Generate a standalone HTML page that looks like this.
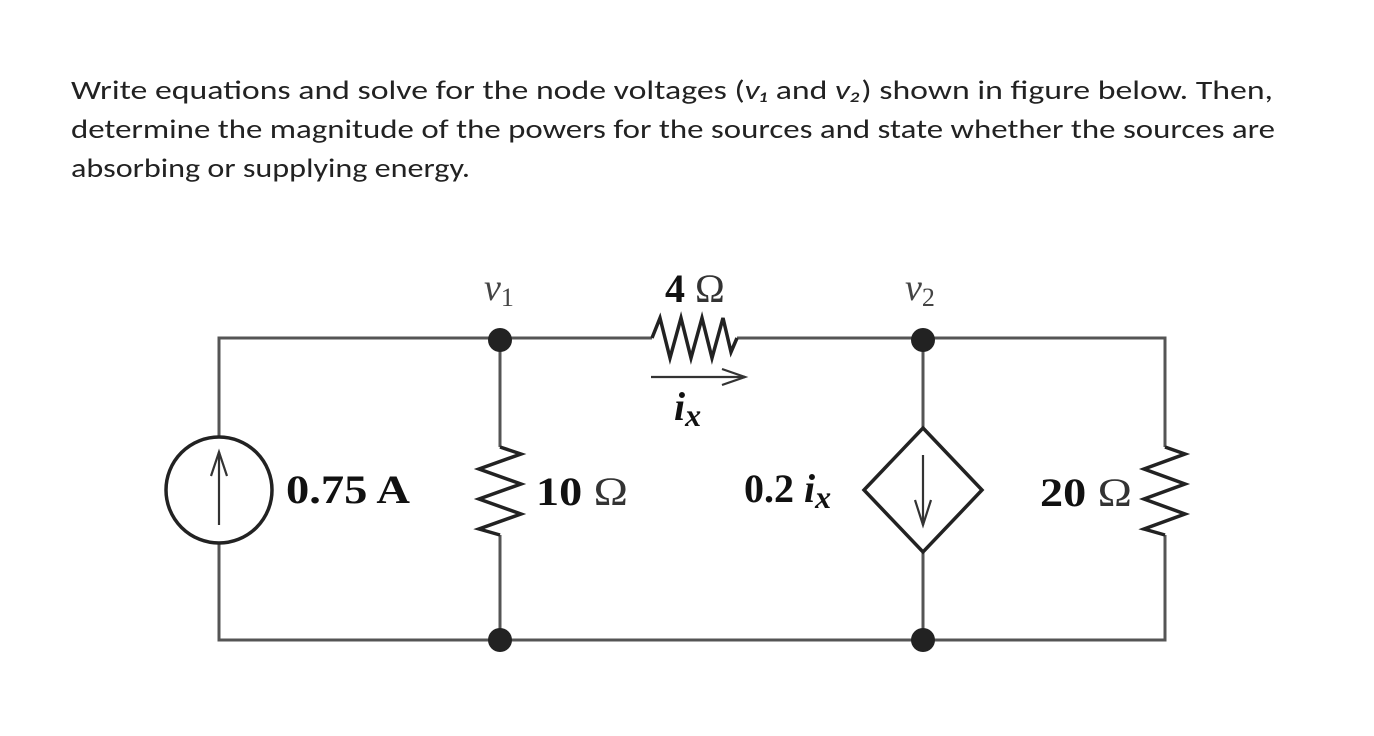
<!DOCTYPE html>
<html><head><meta charset="utf-8"><style>
html,body{margin:0;padding:0;background:#fff;}
svg{display:block;}
</style></head><body>
<svg width="1374" height="736" viewBox="0 0 1374 736" xmlns="http://www.w3.org/2000/svg">
<rect width="1374" height="736" fill="#fff"/>
<g font-family="Carlito, 'Liberation Sans', sans-serif" font-size="27" fill="#222">
<text x="71" y="99" textLength="1202" lengthAdjust="spacingAndGlyphs">Write equations and solve for the node voltages (<tspan font-style="italic">v₁</tspan> and <tspan font-style="italic">v₂</tspan>) shown in figure below. Then,</text>
<text x="71" y="138" textLength="1204" lengthAdjust="spacingAndGlyphs">determine the magnitude of the powers for the sources and state whether the sources are</text>
<text x="71" y="177" textLength="399" lengthAdjust="spacingAndGlyphs">absorbing or supplying energy.</text>
</g>
<g stroke="#555" stroke-width="3" fill="none">
<polyline points="219,438 219,338 652,338"/>
<polyline points="737,338 1165,338 1165,447"/>
<polyline points="219,542 219,640 1165,640 1165,535"/>
<line x1="500" y1="338" x2="500" y2="447"/>
<line x1="500" y1="535" x2="500" y2="640"/>
<line x1="923" y1="338" x2="923" y2="428"/>
<line x1="923" y1="552" x2="923" y2="640"/>
</g>
<g stroke="#222" stroke-width="3.5" fill="none" stroke-linejoin="miter">
<polyline points="500,447 521,454 479,469 521,484 479,499 521,514 479,529 500,535"/>
<polyline points="1165,447 1185,454 1144,469 1185,484 1144,499 1185,514 1144,529 1165,535"/>
<polyline points="652,338 660,318 670,358 681,318 691,358 702,318 712,358 723,318 731,352 737,338"/>
<circle cx="219" cy="490" r="53"/>
<polygon points="923,428 982,490 923,552 864,490"/>
</g>
<g stroke="#333" stroke-width="2.2" fill="none">
<line x1="219" y1="525" x2="219" y2="452"/>
<polyline points="211,476 219,452 227,476"/>
<line x1="923" y1="455" x2="923" y2="525"/>
<polyline points="915,500 923,525 931,500"/>
<line x1="651" y1="377" x2="745" y2="377"/>
<polyline points="722,369 745,377 722,385"/>
</g>
<g fill="#222">
<circle cx="500" cy="340" r="12"/>
<circle cx="500" cy="640" r="12"/>
<circle cx="923" cy="340" r="12"/>
<circle cx="923" cy="640" r="12"/>
</g>
<g font-family="'Liberation Serif', serif" fill="#111">
<text x="286" y="503" font-size="40" font-weight="bold" textLength="124" lengthAdjust="spacingAndGlyphs">0.75 A</text>
<text x="536" y="505" font-size="40" textLength="92" lengthAdjust="spacingAndGlyphs"><tspan font-weight="bold">10</tspan> <tspan fill="#333">Ω</tspan></text>
<text x="1040" y="506" font-size="40" textLength="92" lengthAdjust="spacingAndGlyphs"><tspan font-weight="bold">20</tspan> <tspan fill="#333">Ω</tspan></text>
<text x="744" y="502" font-size="40" font-weight="bold">0.2 <tspan font-style="italic">i</tspan><tspan font-style="italic" font-size="32" dy="6">x</tspan></text>
<text x="665" y="302" font-size="40"><tspan font-weight="bold">4</tspan> <tspan fill="#333">Ω</tspan></text>
<text x="674" y="420" font-size="40" font-weight="bold" font-style="italic">i<tspan font-size="32" dy="6">x</tspan></text>
<text x="484" y="300" font-size="38" font-style="italic" fill="#444">v<tspan font-style="normal" font-size="26" dy="6">1</tspan></text>
<text x="905" y="300" font-size="38" font-style="italic" fill="#444">v<tspan font-style="normal" font-size="26" dy="6">2</tspan></text>
</g>
</svg>
</body></html>
